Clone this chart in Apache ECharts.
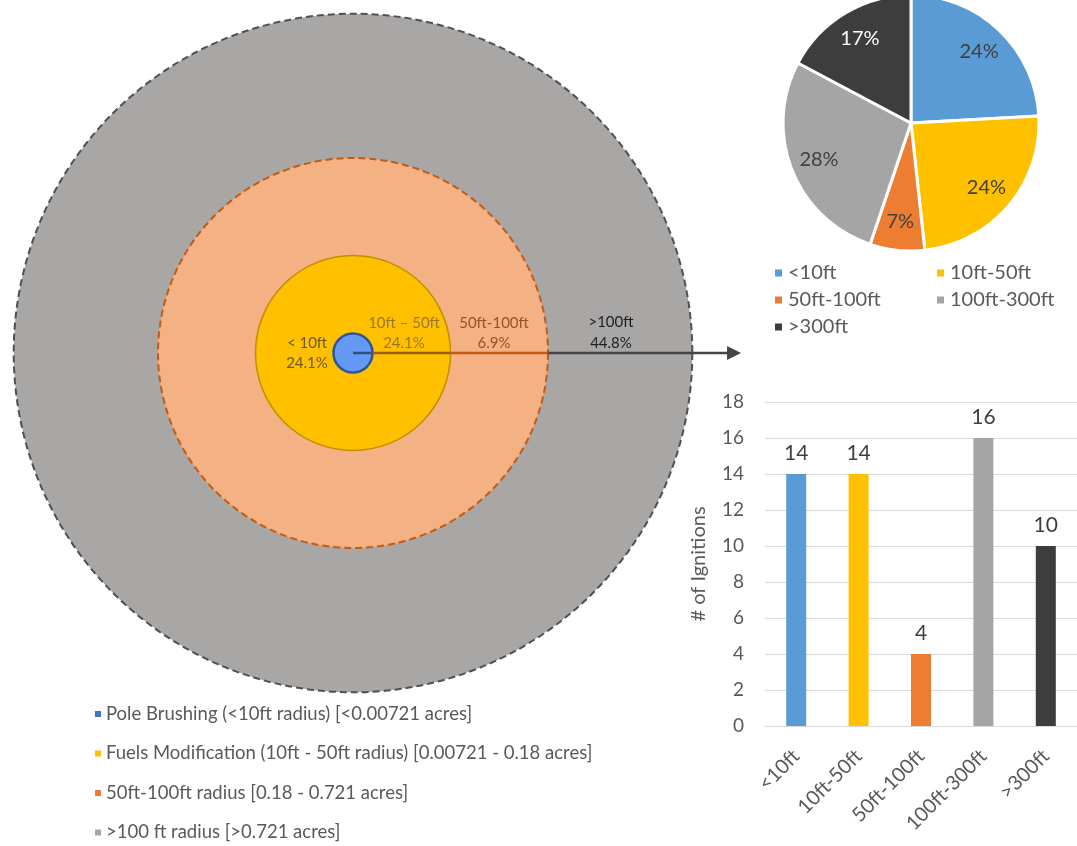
<!DOCTYPE html>
<html><head><meta charset="utf-8">
<script src="https://cdn.jsdelivr.net/npm/echarts@6/dist/echarts.min.js"></script>
<style>html,body{margin:0;padding:0;background:#fff}#c{width:1077px;height:846px}</style>
</head><body><div id="c"></div>
<script>
// ---------- data ----------
const zoneLegend = [
  'Pole Brushing (<10ft radius) [<0.00721 acres]',
  'Fuels Modification (10ft - 50ft radius) [0.00721 - 0.18 acres]',
  '50ft-100ft radius [0.18 - 0.721 acres]',
  '>100 ft radius [>0.721 acres]'
];
const zoneLabels = ['< 10ft', '10ft \u2013 50ft', '50ft-100ft', '>100ft'];
const zoneShares = ['24.1%', '24.1%', '6.9%', '44.8%'];
const zoneRadiusFt = [10, 50, 100, 174];
const distanceCats = ['<10ft', '10ft-50ft', '50ft-100ft', '100ft-300ft', '>300ft'];
const ignitions = [14, 14, 4, 16, 10];
const yMin = 0, yMax = 18, yStep = 2;

// ---------- styles ----------
const catColors = ['#5b9bd5', '#ffc000', '#ed7d31', '#a5a5a5', '#3d3d3d'];
const zoneLegendColors = ['#4472c4', '#ffc000', '#ed7d31', '#a5a5a5'];
const zoneFill = ['#6699f5', '#ffc000', '#f4b183', '#a9a6a6'];
const zoneStroke = ['#2f5597', '#bf9000', '#c55a11', '#505050'];
const zoneDash = [null, null, [7, 4], [7, 4]];
const zoneLW = [2.5, 1.5, 2, 2];
const zoneTextColor = ['#6b5a1c', '#9c7628', '#9c4f2a', '#1e1e1e'];
const FONT = 'Lato';

function ringSeries(i) {
  return {
    type: 'custom', name: zoneLegend[i], coordinateSystem: 'cartesian2d',
    xAxisIndex: 0, yAxisIndex: 0, silent: true,
    itemStyle: { color: zoneLegendColors[i] },
    data: [[zoneRadiusFt[i], 0]],
    renderItem: function (params, api) {
      const c = api.coord([0, 0]);
      const r = api.size([api.value(0), 0])[0];
      return {
        type: 'circle', shape: { cx: c[0], cy: c[1], r: r },
        style: { fill: zoneFill[i], stroke: zoneStroke[i], lineWidth: zoneLW[i], lineDash: zoneDash[i] }
      };
    }
  };
}

const pointerSeries = {
  type: 'custom', name: 'pointer', coordinateSystem: 'cartesian2d',
  xAxisIndex: 0, yAxisIndex: 0, silent: true, z: 5,
  data: [[zoneRadiusFt[3], 0]],
  renderItem: function (params, api) {
    const o = api.coord([0, 0]);
    const p = (ft) => api.coord([ft, 0]);
    const tipFt = api.value(0) + 25;
    const tip = p(tipFt);
    const segs = [
      [0, zoneRadiusFt[0], '#2f4f7f'],
      [zoneRadiusFt[0], zoneRadiusFt[1], '#9a5e14'],
      [zoneRadiusFt[1], zoneRadiusFt[2], '#c55a11'],
      [zoneRadiusFt[2], tipFt, '#454545']
    ];
    const children = segs.map(s => {
      const a = p(s[0]), b = p(s[1]);
      const bx = (s[1] === tipFt) ? b[0] - 12 : b[0];
      return { type: 'line', shape: { x1: a[0], y1: o[1], x2: bx, y2: o[1] }, style: { stroke: s[2], lineWidth: 2.5 } };
    });
    children.push({
      type: 'polygon',
      shape: { points: [[tip[0], o[1]], [tip[0] - 14, o[1] - 7], [tip[0] - 14, o[1] + 7]] },
      style: { fill: '#454545' }
    });
    return { type: 'group', children: children };
  }
};

// text labels inside the rings
const ringText = [];
const labelPos = [[307, 343, 363], [404, 323, 343], [494, 323, 343], [611, 322, 343]];
for (let i = 0; i < 4; i++) {
  ringText.push({ type: 'text', x: labelPos[i][0], y: labelPos[i][1], z: 10,
    style: { text: zoneLabels[i], fill: zoneTextColor[i], font: '15px ' + FONT, align: 'center', verticalAlign: 'middle' } });
  ringText.push({ type: 'text', x: labelPos[i][0], y: labelPos[i][2], z: 10,
    style: { text: zoneShares[i], fill: zoneTextColor[i], font: '15px ' + FONT, align: 'center', verticalAlign: 'middle' } });
}

const pieData = distanceCats.map((n, i) => ({ name: n, value: ignitions[i], itemStyle: { color: catColors[i] } }));
const pieLabelData = distanceCats.map((n, i) => ({
  name: n, value: ignitions[i],
  itemStyle: { color: 'rgba(0,0,0,0)' },
  label: { color: i === 4 ? '#ffffff' : '#404040' }
}));

const chart = echarts.init(document.getElementById('c'), null, { renderer: 'canvas' });
chart.setOption({
  animation: false,
  textStyle: { fontFamily: FONT },
  grid: [
    { left: 2, top: 2, width: 741, height: 702 },
    { left: 765, right: 0, top: 402, bottom: 120 }
  ],
  xAxis: [
    { gridIndex: 0, type: 'value', min: -180, max: 200, show: false },
    {
      gridIndex: 1, type: 'category', data: distanceCats,
      axisLine: { lineStyle: { color: '#d9d9d9', width: 1 } },
      axisTick: { show: false },
      axisLabel: { rotate: 45, interval: 0, fontSize: 20, color: '#595959', margin: 27, fontFamily: FONT }
    }
  ],
  yAxis: [
    { gridIndex: 0, type: 'value', min: -180, max: 180, show: false },
    {
      gridIndex: 1, type: 'value', min: yMin, max: yMax, interval: yStep,
      axisLine: { show: false }, axisTick: { show: false },
      axisLabel: { fontSize: 19, color: '#595959', margin: 21, fontFamily: FONT },
      splitLine: { lineStyle: { color: '#d9d9d9', width: 1 } },
      name: '# of Ignitions', nameLocation: 'middle', nameGap: 56, nameRotate: 90,
      nameTextStyle: { fontSize: 20, color: '#595959', fontFamily: FONT }
    }
  ],
  legend: [
    {
      data: zoneLegend.map((n, i) => ({ name: n, itemStyle: { color: zoneLegendColors[i] } })),
      orient: 'vertical', left: 95, top: 704, padding: 0, icon: 'rect', itemWidth: 6, itemHeight: 6,
      itemGap: 19.5, itemTextGap: 6, selectedMode: false,
      textStyle: { fontSize: 18.5, lineHeight: 20, color: '#595959', fontFamily: FONT }
    },
    {
      data: [distanceCats[0], distanceCats[2], distanceCats[4]],
      orient: 'vertical', left: 773, top: 263, padding: 0, icon: 'rect', itemWidth: 9, itemHeight: 9,
      itemGap: 7, itemTextGap: 10, selectedMode: false,
      textStyle: { fontSize: 20, lineHeight: 20, color: '#595959', fontFamily: FONT }
    },
    {
      data: [distanceCats[1], distanceCats[3]],
      orient: 'vertical', left: 935, top: 263, padding: 0, icon: 'rect', itemWidth: 9, itemHeight: 9,
      itemGap: 7, itemTextGap: 5, selectedMode: false,
      textStyle: { fontSize: 20, lineHeight: 20, color: '#595959', fontFamily: FONT }
    }
  ],
  graphic: ringText,
  series: [
    ringSeries(3), ringSeries(2), ringSeries(1), ringSeries(0),
    pointerSeries,
    {
      type: 'pie', name: 'share', center: [911, 123], radius: [0, 128], startAngle: 90, clockwise: true,
      data: pieData, itemStyle: { borderColor: '#ffffff', borderWidth: 3 },
      label: { show: false }, labelLine: { show: false }, emphasis: { disabled: true }, silent: true
    },
    {
      type: 'pie', name: 'shareLabels', center: [911, 123], radius: [64, 128], startAngle: 90, clockwise: true,
      data: pieLabelData, silent: true, avoidLabelOverlap: false, emphasis: { disabled: true },
      label: { show: true, position: 'inside', fontSize: 20, fontFamily: FONT,
        formatter: p => Math.round(p.percent) + '%' },
      labelLine: { show: false }
    },
    {
      type: 'bar', name: 'Ignitions', xAxisIndex: 1, yAxisIndex: 1, barWidth: 20,
      data: ignitions.map((v, i) => ({ value: v, itemStyle: { color: catColors[i] } })),
      label: { show: true, position: 'top', distance: 10, fontSize: 21, color: '#404040', fontFamily: FONT }
    }
  ]
});
</script>
</body></html>
